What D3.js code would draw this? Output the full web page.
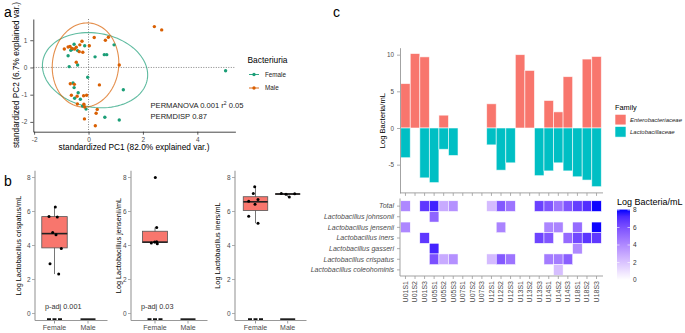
<!DOCTYPE html>
<html><head><meta charset="utf-8">
<script src="https://cdn.jsdelivr.net/npm/d3@7"></script>
<style>body{margin:0;background:#fff}svg{font-family:"Liberation Sans",Arial,sans-serif}</style>
</head><body><svg id="c" width="685" height="333"></svg>
<script>
// ---------------- DATA ----------------
// Panel a: PCA scores
const femalePts = [[0.94,0.83],[-0.14,0.80],[-0.53,0.85],[-0.40,0.62],[-0.59,0.68],[-0.65,0.63],[-0.75,0.43],[0.24,0.39],[0.58,0.47],[0.67,0.47],[-0.40,0.09],[-0.71,0.03],[-0.03,-0.36],[-0.57,-0.57],[-0.53,-0.74],[1.28,-0.82],[-0.38,-0.93],[-0.51,-1.13],[-0.30,-1.17],[-0.22,-1.42],[-0.09,-1.53],[0.60,-1.83],[1.13,-1.93],[5.04,-0.12]];
const malePts = [[2.42,1.50],[2.69,1.38],[0.21,1.10],[0.73,1.11],[0.62,1.00],[-0.24,0.96],[0.03,0.80],[-0.32,0.83],[-0.75,0.75],[-0.89,0.68],[-0.68,0.77],[-0.61,0.70],[-0.51,0.68],[-0.45,0.74],[-0.21,0.56],[-0.34,0.58],[-0.45,0.19],[1.13,0.09],[-0.67,-0.60],[-0.52,-0.62],[0.40,-0.64],[-0.63,-1.02],[-0.42,-1.06],[-0.18,-1.04],[-0.07,-1.02],[-0.41,-1.34],[-0.17,-1.35],[-0.14,-1.45],[0.32,-1.54],[0.28,-1.68],[-0.15,-1.89],[0.25,-2.14]];
// ellipse: [cx, cy, semi-major, semi-minor, angle(deg)]
const femaleEllipse = [0.24, -0.10, 1.95, 1.36, -10];
const maleEllipse = [-0.11, 0.09, 1.55, 1.22, 84];
const groups = ["Female", "Male"];
const pcaXTicks = [-2, 0, 2, 4];
const pcaYTicks = [-2, -1, 0, 1];

// Panel b: box plots
const species = ["crispatus", "jensenii", "iners"];
const boxYTitles = ["Log Lactobacillus crispatus/mL", "Log Lactobacillus jensenii/mL", "Log Lactobacillus iners/mL"];
const pAdj = ["p-adj 0.001", "p-adj 0.03", null];
// [whiskerLow, q1, median, q3, whiskerHigh]
const femaleBox = [[2.32, 3.86, 4.70, 5.70, 6.26], [4.10, 4.18, 4.20, 4.84, 5.06], [5.31, 6.06, 6.57, 6.87, 7.45]];
const maleBox = [null, null, [6.86, 7.00, 7.03, 7.05, 7.06]];
const femaleVals = [[6.26,5.70,5.68,4.76,4.64,3.82,2.93,2.32],[8.0,5.06,4.22,4.20,4.15,4.10],[7.45,7.06,6.60,6.70,6.43,5.72,5.31]];
const maleVals = [[],[],[7.06,7.02,6.86,7.05]];
const zeroValue = -0.33;
const boxYTicks = [0, 2, 4, 6, 8];

// Panel c
const samples = ["U01S1","U01S2","U01S3","U05S1","U05S2","U05S3","U07S1","U07S2","U07S3","U12S1","U12S2","U12S3","U13S1","U13S2","U13S3","U14S1","U14S2","U14S3","U18S1","U18S2","U18S3"];
const enteroVals = [6.05,10.15,9.7,0,1.75,0,0,0,0,3.3,0,0,10.0,7.85,0,3.75,2.2,7.0,0,9.4,9.75];
const lactoVals  = [4.05,0,6.8,7.45,2.9,3.75,0,0,0,2.3,5.75,4.75,0,0,6.5,5.85,4.75,5.85,6.65,7.1,8.0];
const families = ["Enterobacteriaceae", "Lactobacillaceae"];
const barYTicks = [-5, 0, 5, 10];
const taxa = ["Total","Lactobacillus johnsonii","Lactobacillus jensenii","Lactobacillus iners","Lactobacillus gasseri","Lactobacillus crispatus","Lactobacillus coleohominis"];
const N = null;
const heatJohnsonii   = [N,N,N,5.3,N,N,N,N,N,N,N,N,N,N,N,N,N,N,N,N,N];
const heatJensenii    = [4.1,N,N,N,N,N,N,N,N,N,4.2,N,N,N,N,4.15,4.2,N,5.05,N,8.0];
const heatIners       = [N,N,6.8,N,N,N,N,N,N,N,N,N,N,N,6.4,5.8,N,5.1,6.3,6.9,6.8];
const heatGasseri     = [N,N,N,7.4,N,N,N,N,N,N,N,N,N,N,N,N,N,N,4.0,N,N];
const heatCrispatus   = [N,N,N,6.0,2.9,3.8,N,N,N,2.3,5.7,4.75,N,N,N,4.5,4.5,5.5,N,N,N];
const heatColeohominis= [N,N,N,N,N,N,N,N,N,N,N,N,N,N,N,N,2.2,N,N,N,N];
const heatTotal = lactoVals.map(v => v > 0 ? v : null);
const heatRows = [heatTotal, heatJohnsonii, heatJensenii, heatIners, heatGasseri, heatCrispatus, heatColeohominis];
const legendTicks = [0, 2, 4, 6, 8];

// ---------------- DRAW ----------------
const svg = d3.select("#c");
const GREEN = "#1B9E77", ORANGE = "#D95F02", RED = "#F8766D", TEAL = "#00BFC4";
const txtCol = "#4d4d4d";

function styleAxis(g, col, fs) {
  g.select(".domain").attr("stroke", col).attr("stroke-width", 0.9);
  g.selectAll(".tick line").attr("stroke", col).attr("stroke-width", 0.8);
  g.selectAll(".tick text").attr("fill", txtCol).style("font-size", fs + "px").style("font-family", "'Liberation Sans',Arial,sans-serif");
}
const fmt = d => String(d);

// panel letters
[["a",4,17],["b",4,186],["c",333,17]].forEach(([t,x,y]) =>
  svg.append("text").attr("x",x).attr("y",y).text(t).style("font-size","14px").attr("fill","#000"));

// ---- Panel a ----
const ax = d3.scaleLinear().domain([-2.03, 5.4]).range([33.3, 235.4]);
const ay = d3.scaleLinear().domain([-2.36, 1.78]).range([131.7, 19]);
const pa = svg.append("g");
pa.append("line").attr("x1", ax(0)).attr("x2", ax(0)).attr("y1", ay.range()[1]).attr("y2", ay.range()[0])
  .attr("stroke", "#666").attr("stroke-width", 0.8).attr("stroke-dasharray", "1,1.5");
pa.append("line").attr("y1", ay(0)).attr("y2", ay(0)).attr("x1", ax.range()[0]).attr("x2", ax.range()[1])
  .attr("stroke", "#666").attr("stroke-width", 0.8).attr("stroke-dasharray", "1,1.5");
function ellipsePath(e) {
  const [ecx, ecy, a, b, ang] = e; const th = ang * Math.PI / 180;
  const pts = d3.range(0, 101).map(i => {
    const t = i / 100 * 2 * Math.PI;
    return [ax(ecx + a*Math.cos(t)*Math.cos(th) - b*Math.sin(t)*Math.sin(th)),
            ay(ecy + a*Math.cos(t)*Math.sin(th) + b*Math.sin(t)*Math.cos(th))];
  });
  return d3.line()(pts);
}
pa.append("path").attr("d", ellipsePath(femaleEllipse)).attr("fill","none").attr("stroke", GREEN).attr("stroke-opacity",0.7).attr("stroke-width",1.1);
pa.append("path").attr("d", ellipsePath(maleEllipse)).attr("fill","none").attr("stroke", ORANGE).attr("stroke-opacity",0.7).attr("stroke-width",1.1);
pa.selectAll(".pf").data(femalePts).join("circle").attr("cx", d => ax(d[0])).attr("cy", d => ay(d[1])).attr("r",1.7).attr("fill",GREEN);
pa.selectAll(".pm").data(malePts).join("circle").attr("cx", d => ax(d[0])).attr("cy", d => ay(d[1])).attr("r",1.7).attr("fill",ORANGE);
const gax = pa.append("g").attr("transform",`translate(0,${ay.range()[0]})`).call(d3.axisBottom(ax).tickValues(pcaXTicks).tickFormat(fmt).tickSize(3).tickSizeOuter(0));
styleAxis(gax, "#333", 6.5);
const gay = pa.append("g").attr("transform",`translate(${ax.range()[0]},0)`).call(d3.axisLeft(ay).tickValues(pcaYTicks).tickFormat(fmt).tickSize(3).tickSizeOuter(0));
styleAxis(gay, "#333", 6.5);
pa.append("text").attr("x",134).attr("y",150).attr("text-anchor","middle").style("font-size","8.3px").text("standardized PC1 (82.0% explained var.)");
pa.append("text").attr("transform","translate(19,75) rotate(-90)").attr("text-anchor","middle").style("font-size","8.3px").text("standardized PC2 (6.7% explained var.)");
pa.append("text").attr("x",150.5).attr("y",107.5).style("font-size","7.6px").attr("fill","#222").html("PERMANOVA 0.001 r<tspan dy='-3' font-size='5px'>2</tspan><tspan dy='3'> 0.05</tspan>");
pa.append("text").attr("x",150.5).attr("y",118.5).style("font-size","7.6px").attr("fill","#222").text("PERMDISP 0.87");
// legend
pa.append("text").attr("x",247.5).attr("y",63).style("font-size","8.4px").text("Bacteriuria");
groups.forEach((gname, i) => {
  const y = 74.5 + i * 13.5, c = i === 0 ? GREEN : ORANGE;
  pa.append("line").attr("x1",249).attr("x2",259).attr("y1",y).attr("y2",y).attr("stroke",c).attr("stroke-width",0.9);
  pa.append("circle").attr("cx",254).attr("cy",y).attr("r",1.7).attr("fill",c);
  pa.append("text").attr("x",265).attr("y",y+2.2).style("font-size","6.3px").attr("fill","#222").text(gname);
});

// ---- Panel b ----
const by = d3.scaleLinear().domain([-0.41, 8.4]).range([320.5, 170.7]);
const subLayout = [
  {x0: 35, x1: 107.5, pos: [54.5, 88], title: 20.5, jf: [0.8,-5.5,2.8,-1.8,1.5,6.8,-4.5,4.2], jm: []},
  {x0: 131, x1: 207.5, pos: [155, 188], title: 121, jf: [0.3,1.7,1.7,-0.3,-3.7,2.3], jm: []},
  {x0: 235, x1: 306.5, pos: [255.5, 287.7], title: 220, jf: [-0.8,-2.2,-6.8,2.5,-0.5,-6.8,2.5], jm: [-6.4,-1.7,1.6,7]}
];
const pb = svg.append("g").attr("id","panelb");
species.forEach((sp, i) => {
  const L = subLayout[i];
  const g = pb.append("g");
  const xs = d3.scalePoint().domain(groups).range(L.pos);
  const bw = 0.76 * (L.pos[1] - L.pos[0]);
  const drawBox = (st, bx, fill) => {
    g.append("line").attr("x1",bx).attr("x2",bx).attr("y1",by(st[0])).attr("y2",by(st[4])).attr("stroke","#666").attr("stroke-width",0.9);
    g.append("rect").attr("x",bx-bw/2).attr("width",bw).attr("y",by(st[3])).attr("height",Math.max(0.5, by(st[1])-by(st[3])))
      .attr("fill",fill).attr("stroke","#555").attr("stroke-width",0.8);
    g.append("line").attr("x1",bx-bw/2).attr("x2",bx+bw/2).attr("y1",by(st[2])).attr("y2",by(st[2])).attr("stroke","#222").attr("stroke-width",1.6);
  };
  drawBox(femaleBox[i], xs("Female"), RED);
  if (maleBox[i]) drawBox(maleBox[i], xs("Male"), RED);
  femaleVals[i].forEach((v, k) => g.append("circle").attr("cx", xs("Female") + L.jf[k]).attr("cy", by(v)).attr("r",1.5).attr("fill","#000"));
  maleVals[i].forEach((v, k) => g.append("circle").attr("cx", xs("Male") + L.jm[k]).attr("cy", by(v)).attr("r",1.5).attr("fill","#000"));
  groups.forEach(gr => {
    const zx = xs(gr);
    g.append("line").attr("x1",zx-7.5).attr("x2",zx+7.5).attr("y1",by(zeroValue)).attr("y2",by(zeroValue)).attr("stroke","#111").attr("stroke-width",1.6).attr("stroke-dasharray", gr==="Female"?"4,1.5":null);
  });
  // axes
  g.append("line").attr("x1",L.x0).attr("x2",L.x0).attr("y1",by.range()[1]).attr("y2",by.range()[0]).attr("stroke","#999").attr("stroke-width",1.1);
  g.append("line").attr("x1",L.x0).attr("x2",L.x1).attr("y1",by.range()[0]).attr("y2",by.range()[0]).attr("stroke","#999").attr("stroke-width",1.1);
  groups.forEach(gr => {
    g.append("line").attr("x1",xs(gr)).attr("x2",xs(gr)).attr("y1",by.range()[0]).attr("y2",by.range()[0]+3).attr("stroke","#999");
    g.append("text").attr("x",xs(gr)).attr("y",by.range()[0]+9.5).attr("text-anchor","middle").style("font-size","7px").attr("fill",txtCol).text(gr);
  });
  g.append("text").attr("transform",`translate(${L.title},${by(4)}) rotate(-90)`).attr("text-anchor","middle").style("font-size","7.3px").text(boxYTitles[i]);
  if (pAdj[i]) g.append("text").attr("x", L.x0 + 10).attr("y", 308.5).style("font-size","7.3px").attr("fill","#333").text(pAdj[i]);
});
// y tick marks + labels for all three subplots
const tickRows = [];
subLayout.forEach(L => boxYTicks.forEach(t => tickRows.push({x: L.x0, t})));
pb.selectAll("line.yt").data(tickRows).join("line").attr("class","yt")
  .attr("x1", d => d.x - 3).attr("x2", d => d.x).attr("y1", d => by(d.t)).attr("y2", d => by(d.t))
  .attr("stroke","#999").attr("stroke-width",0.8);
pb.selectAll("text.yl").data(tickRows).join("text").attr("class","yl")
  .attr("x", d => d.x - 4.5).attr("y", d => by(d.t) + 2.3)
  .attr("text-anchor","end").attr("font-size", 6.5).attr("fill", "#4d4d4d")
  .text(d => fmt(d.t));

// ---- Panel c ----
const bx = d3.scaleBand().domain(samples).range([400.7, 601.3]).padding(0);
const byc = d3.scaleLinear().domain([-8.85, 10.95]).range([192.9, 47.7]);
const pc = svg.append("g");
pc.selectAll(".be").data(samples).join("rect")
  .attr("x", d => bx(d)).attr("width", bx.bandwidth())
  .attr("y", (d,i) => byc(enteroVals[i])).attr("height", (d,i) => byc(0) - byc(enteroVals[i]))
  .attr("fill", RED).attr("stroke","#fff").attr("stroke-opacity",0.7).attr("stroke-width",0.8)
  .attr("display", (d,i) => enteroVals[i] > 0 ? null : "none");
pc.selectAll(".bl").data(samples).join("rect")
  .attr("x", d => bx(d)).attr("width", bx.bandwidth())
  .attr("y", byc(0)).attr("height", (d,i) => byc(-lactoVals[i]) - byc(0))
  .attr("fill", TEAL).attr("stroke","#fff").attr("stroke-opacity",0.7).attr("stroke-width",0.8)
  .attr("display", (d,i) => lactoVals[i] > 0 ? null : "none");
const gcy = pc.append("g").attr("transform","translate(400,0)").call(d3.axisLeft(byc).tickValues(barYTicks).tickFormat(fmt).tickSize(3).tickSizeOuter(0));
styleAxis(gcy, "#999", 6.3);
const gcx = pc.append("g").attr("transform",`translate(0,${byc.range()[0]})`).call(d3.axisBottom(bx).tickSize(3).tickSizeOuter(0).tickFormat(""));
gcx.select(".domain").attr("d", `M400,0H603`);
styleAxis(gcx, "#999", 6);
pc.append("text").attr("transform",`translate(385,${byc(1)}) rotate(-90)`).attr("text-anchor","middle").style("font-size","7.6px").text("Log Bacteria/mL");

// family legend
pc.append("text").attr("x",615).attr("y",110).style("font-size","7.4px").text("Family");
families.forEach((f, i) => {
  const y = 114.3 + i * 12.2;
  pc.append("rect").attr("x",615).attr("y",y).attr("width",11).attr("height",10.6).attr("fill", i===0?RED:TEAL).attr("stroke","#fff").attr("stroke-width",0.6);
  pc.append("text").attr("x",630).attr("y",y+7.6).style("font-size","6px").style("font-style","italic").attr("fill","#222").text(f);
});

// heatmap
const hy = d3.scaleBand().domain(taxa).range([200.8, 275.2]).padding(0);
const color = d3.scaleLinear().domain([0, 8.05]).range(["#ffffff", "#0000ff"]).interpolate(d3.interpolateLab);
heatRows.forEach((row, r) => {
  row.forEach((v, c) => {
    if (v == null) return;
    pc.append("rect").attr("x", bx(samples[c])).attr("y", hy(taxa[r])).attr("width", bx.bandwidth()).attr("height", hy.bandwidth())
      .attr("fill", color(v)).attr("stroke","#fff").attr("stroke-width",0.5);
  });
});
const ghy = pc.append("g").attr("transform","translate(400,0)").call(d3.axisLeft(hy).tickSize(3).tickSizeOuter(0));
ghy.select(".domain").attr("d", "M0,198.5V276");
styleAxis(ghy, "#999", 7);
ghy.selectAll(".tick text").style("font-style","italic");
const ghx = pc.append("g").attr("transform","translate(0,276)").call(d3.axisBottom(bx).tickSize(3).tickSizeOuter(0));
ghx.select(".domain").attr("d", "M400,0H603");
styleAxis(ghx, "#999", 7);
ghx.selectAll(".tick text").attr("transform","rotate(-90)").attr("text-anchor","end").attr("x",-5).attr("y",0).attr("dy","0.35em");

// color legend
pc.append("text").attr("x",617).attr("y",205).style("font-size","9px").text("Log Bacteria/mL");
const ly = d3.scaleLinear().domain([0, 8]).range([280, 210]);
const defs = svg.append("defs");
const lg = defs.append("linearGradient").attr("id","lg").attr("x1",0).attr("y1",1).attr("x2",0).attr("y2",0);
d3.range(0, 11).forEach(i => lg.append("stop").attr("offset", i/10).attr("stop-color", color(8.05 * i / 10)));
pc.append("rect").attr("x",617).attr("y",ly(8.05)).attr("width",13).attr("height",ly(0)-ly(8.05)).attr("fill","url(#lg)");
legendTicks.forEach(t => {
  pc.append("line").attr("x1",617).attr("x2",619.5).attr("y1",ly(t)).attr("y2",ly(t)).attr("stroke","#fff").attr("stroke-width",0.6);
  pc.append("line").attr("x1",627.5).attr("x2",630).attr("y1",ly(t)).attr("y2",ly(t)).attr("stroke","#fff").attr("stroke-width",0.6);
  pc.append("text").attr("x",633).attr("y",ly(t)+2.3).style("font-size","6.5px").attr("fill","#333").text(t);
});
</script></body></html>
